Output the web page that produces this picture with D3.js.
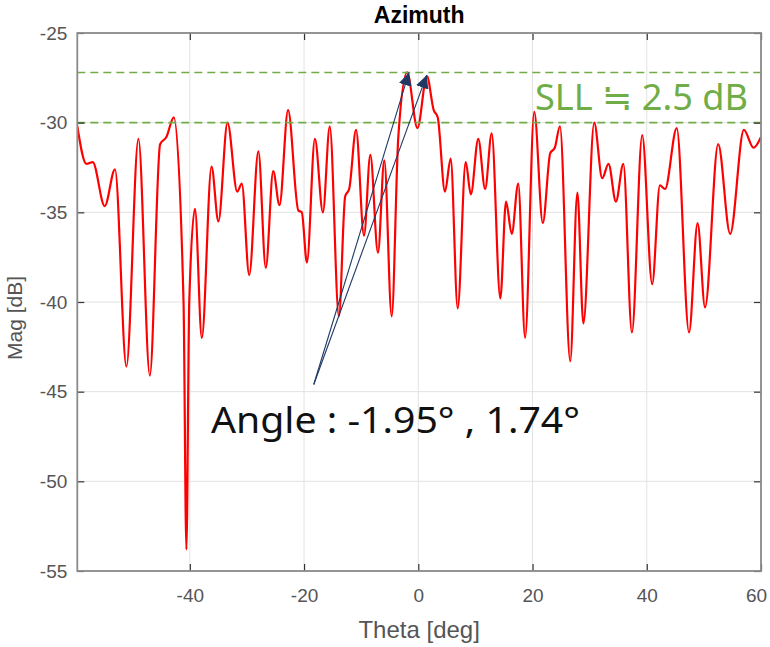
<!DOCTYPE html>
<html><head><meta charset="utf-8">
<script src="https://cdn.jsdelivr.net/npm/d3@7"></script>
<style>body{margin:0;background:#fff}svg{display:block}</style></head>
<body><svg id="c" width="770" height="647"></svg>
<script>
// ---- data ----
const theta = [-59.7,-58.1,-57.0,-54.9,-53.1,-51.1,-49.0,-47.0,-45.2,-44.1,-42.8,-41.1,-40.6,-40.1,-39.1,-37.9,-36.2,-35.0,-33.4,-31.7,-30.9,-29.6,-28.0,-26.7,-25.4,-24.3,-22.8,-21.0,-20.4,-19.5,-18.1,-16.7,-15.5,-13.9,-12.8,-12.1,-10.9,-9.5,-8.4,-7.06,-5.95,-4.66,-3.5,-1.95,-0.15,1.5,2.7,3.4,4.67,5.67,6.9,8.3,9.2,10.5,11.7,12.85,14.36,15.36,16.36,17.5,18.7,20.3,21.8,23.1,23.9,24.8,26.6,27.85,28.9,30.8,32.2,33.3,34.6,35.9,37.4,39.2,40.95,42.3,43.2,45.25,47.4,48.9,50.2,52.5,54.6,57.0,58.7,60.0];
const mag   = [-30.2,-32.3,-32.2,-34.65,-32.6,-43.6,-30.9,-44.1,-31.2,-30.8,-29.7,-40.0,-53.8,-40.0,-34.8,-42.0,-32.45,-35.5,-30.0,-33.85,-33.4,-38.5,-31.6,-38.1,-32.7,-34.6,-29.3,-34.9,-35.0,-37.8,-30.9,-35.0,-30.2,-40.8,-34.1,-33.7,-30.4,-36.3,-31.8,-37.25,-32.1,-40.8,-30.8,-27.2,-30.3,-27.4,-29.3,-29.7,-33.85,-32.0,-40.35,-32.2,-34.0,-30.9,-33.7,-30.6,-39.8,-34.4,-36.2,-33.4,-42.0,-29.4,-35.6,-31.7,-31.4,-30.2,-43.3,-33.9,-41.2,-30.0,-33.1,-32.3,-34.4,-32.3,-41.7,-30.7,-39.0,-33.5,-33.7,-30.3,-41.7,-35.6,-40.3,-31.2,-36.2,-30.4,-31.4,-30.8];
const xTicks = [-40,-20,0,20,40,60];
const yTicks = [-25,-30,-35,-40,-45,-50,-55];
const xDomain = [-59.7,60];
const yDomain = [-55,-25];
const sllLevels = [-27.2,-30];
const arrowStart = [-18.3,-44.6];
const arrowTips = [[-1.63,-27.2],[1.47,-27.35]];
const titleText = "Azimuth", xLabel = "Theta [deg]", yLabel = "Mag [dB]";
const sllText = "SLL ≒ 2.5 dB", angleText = "Angle : -1.95° , 1.74°";

// ---- layout ----
const L=77.3, R=761, T=33, B=571;
const svg = d3.select("#c");
const x = d3.scaleLinear().domain(xDomain).range([L,R]);
const y = d3.scaleLinear().domain(yDomain).range([B,T]);

// grid
const grid = svg.append("g");
grid.selectAll("line.gx").data(xTicks).join("line")
  .attr("x1",d=>x(d)).attr("x2",d=>x(d)).attr("y1",T).attr("y2",B)
  .attr("stroke","#e2e2e2").attr("stroke-width",1);
grid.selectAll("line.gy").data(yTicks).join("line")
  .attr("y1",d=>y(d)).attr("y2",d=>y(d)).attr("x1",L).attr("x2",R)
  .attr("stroke","#e2e2e2").attr("stroke-width",1);

// curve
const pts = theta.map((t,i)=>[t,mag[i]]);
svg.append("clipPath").attr("id","pc").append("rect")
  .attr("x",L).attr("y",T).attr("width",R-L).attr("height",B-T);
svg.append("path").datum(pts)
  .attr("clip-path","url(#pc)")
  .attr("d", d3.line().x(d=>x(d[0])).y(d=>y(d[1])).curve(d3.curveMonotoneX))
  .attr("fill","none").attr("stroke","#ff0000").attr("stroke-width",2.2)
  .attr("stroke-linejoin","round");

// SLL dashed lines
svg.selectAll("line.sll").data(sllLevels).join("line")
  .attr("x1",L).attr("x2",R).attr("y1",d=>y(d)).attr("y2",d=>y(d))
  .attr("stroke","#70ad47").attr("stroke-width",1.6).attr("stroke-dasharray","8,5");

// axes
const fontT = "Liberation Sans, Arial, sans-serif";
function styleAxis(g){
  g.select(".domain").remove();
  g.selectAll(".tick line").attr("stroke","#333").attr("stroke-width",1.2);
  g.selectAll("text").attr("font-family",fontT).attr("font-size",19).attr("fill","#555");
}
const fmt = d => String(d);
const gx = svg.append("g").attr("transform",`translate(0,${B})`)
  .call(d3.axisBottom(x).tickValues(xTicks).tickSize(-7).tickPadding(18).tickFormat(fmt)).call(styleAxis);
gx.selectAll(".tick text").filter(d=>d===60).attr("dx",-5);
svg.append("g").attr("transform",`translate(${L},0)`)
  .call(d3.axisLeft(y).tickValues(yTicks).tickSize(-7).tickPadding(10).tickFormat(fmt)).call(styleAxis);
svg.append("g").attr("transform",`translate(0,${T})`)
  .call(d3.axisTop(x).tickValues(xTicks).tickSize(-7).tickFormat("")).call(styleAxis);
svg.append("g").attr("transform",`translate(${R},0)`)
  .call(d3.axisRight(y).tickValues(yTicks).tickSize(-7).tickFormat("")).call(styleAxis);

// box
svg.append("rect").attr("x",L).attr("y",T).attr("width",R-L).attr("height",B-T)
  .attr("fill","none").attr("stroke","#8a8a8a").attr("stroke-width",1.8);

// labels
svg.append("text").attr("x",(L+R)/2).attr("y",23).attr("text-anchor","middle")
  .attr("font-family",fontT).attr("font-weight","bold").attr("font-size",23).attr("fill","#000").text(titleText);
svg.append("text").attr("x",(L+R)/2).attr("y",638).attr("text-anchor","middle")
  .attr("font-family",fontT).attr("font-size",24).attr("fill","#555").text(xLabel);
svg.append("text").attr("transform",`translate(22,318) rotate(-90)`).attr("text-anchor","middle")
  .attr("font-family",fontT).attr("font-size",21).attr("fill","#555").text(yLabel);

// SLL text
svg.append("text").attr("x",535).attr("y",110)
  .attr("font-family","Noto Sans, Open Sans, sans-serif").attr("font-size",37)
  .attr("fill","#70ad47").attr("textLength",213).attr("lengthAdjust","spacingAndGlyphs").text(sllText);

// arrows
const defs = svg.append("defs");
defs.append("marker").attr("id","ah").attr("viewBox","0 0 10 10").attr("refX",10).attr("refY",5)
  .attr("markerWidth",13).attr("markerHeight",13).attr("markerUnits","userSpaceOnUse")
  .attr("orient","auto")
  .append("path").attr("d","M0,0 L10,5 L0,10 Z").attr("fill","#1f3864");
svg.selectAll("line.arr").data(arrowTips).join("line")
  .attr("x1",x(arrowStart[0])).attr("y1",y(arrowStart[1]))
  .attr("x2",d=>x(d[0])).attr("y2",d=>y(d[1]))
  .attr("stroke","#1f3864").attr("stroke-width",1.1).attr("marker-end","url(#ah)");

// angle text
svg.append("text").attr("x",211).attr("y",433)
  .attr("font-family","Noto Sans, Open Sans, sans-serif").attr("font-size",36)
  .attr("fill","#111").attr("textLength",369).attr("lengthAdjust","spacingAndGlyphs")
  .attr("xml:space","preserve").text(angleText);
</script></body></html>
